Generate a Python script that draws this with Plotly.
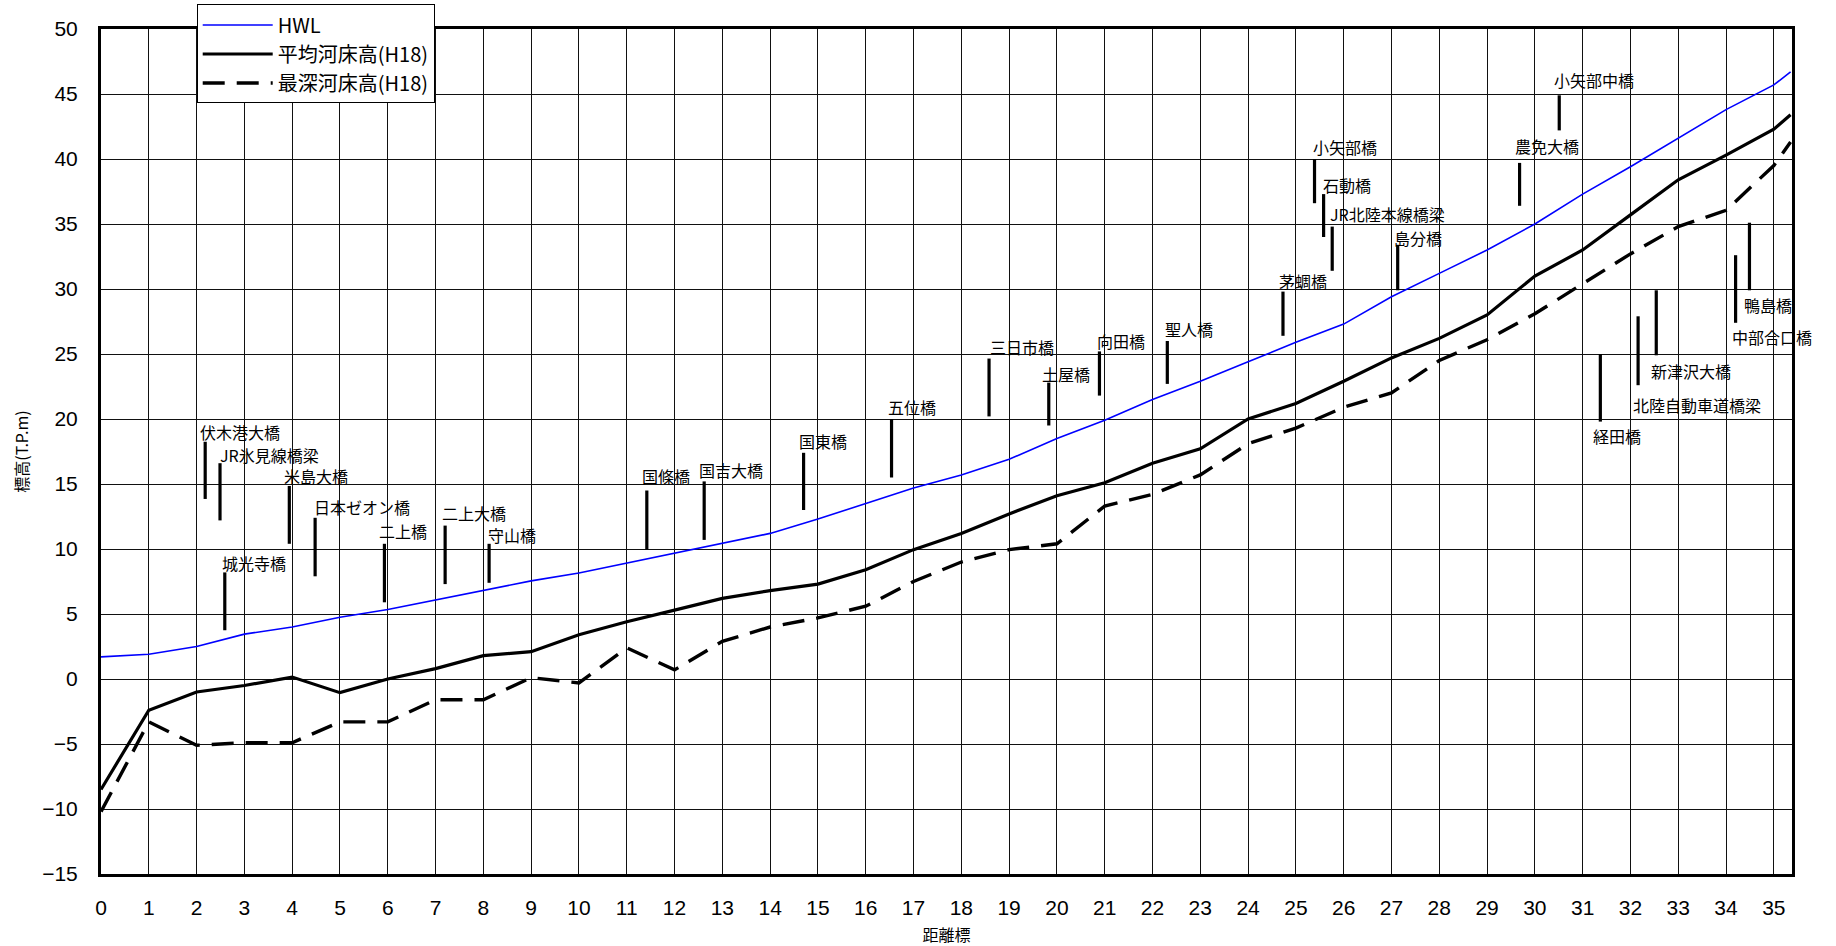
import plotly.graph_objects as go

# ---- data ----
km = [0, 1, 2, 3, 4, 5, 6, 7, 8, 9, 10, 11, 12, 13, 14, 15, 16, 17, 18, 19, 20,
      21, 22, 23, 24, 25, 26, 27, 28, 29, 30, 31, 32, 33, 34, 35, 35.35]
hwl = [1.7, 1.9, 2.5, 3.45, 4.0, 4.75, 5.35, 6.1, 6.85, 7.55, 8.15, 8.9, 9.7, 10.4,
       11.2, 12.3, 13.5, 14.7, 15.7, 16.9, 18.5, 19.9, 21.5, 22.9, 24.4, 25.9, 27.3,
       29.4, 31.2, 33.0, 35.0, 37.3, 39.4, 41.6, 43.8, 45.7, 46.7]
mean_bed = [-8.5, -2.4, -1.0, -0.5, 0.15, -1.05, 0.0, 0.8, 1.8, 2.1, 3.4, 4.4, 5.3,
            6.2, 6.8, 7.3, 8.4, 9.95, 11.2, 12.7, 14.1, 15.1, 16.6, 17.7, 20.0, 21.2,
            22.9, 24.7, 26.2, 28.0, 31.0, 33.0, 35.7, 38.4, 40.3, 42.3, 43.4]
deep_bed = [-10.2, -3.3, -5.1, -4.9, -4.9, -3.3, -3.3, -1.6, -1.6, 0.1, -0.3, 2.4, 0.7,
            2.9, 4.0, 4.7, 5.6, 7.5, 9.0, 9.95, 10.4, 13.3, 14.2, 15.7, 18.1, 19.3,
            20.9, 22.0, 24.5, 26.1, 28.1, 30.4, 32.7, 34.8, 36.05, 39.5, 41.3]

series_names = ["HWL", "平均河床高(H18)", "最深河床高(H18)"]

# bridges: name, distance (km), marker top/bottom (T.P.m), label anchor (km, T.P.m)
bridge_names = ["伏木港大橋", "JR氷見線橋梁", "米島大橋", "日本ゼオン橋", "城光寺橋",
                "二上橋", "二上大橋", "守山橋", "国條橋", "国吉大橋", "国東橋", "五位橋",
                "三日市橋", "土屋橋", "向田橋", "聖人橋", "茅蜩橋", "小矢部橋", "石動橋",
                "JR北陸本線橋梁", "島分橋", "農免大橋", "小矢部中橋", "経田橋",
                "北陸自動車道橋梁", "新津沢大橋", "中部合口橋", "鴨島橋"]
bridge_km = [2.18, 2.49, 3.94, 4.48, 2.59, 5.93, 7.2, 8.12, 11.42, 12.62, 14.7, 16.54,
             18.58, 19.83, 20.89, 22.31, 24.73, 25.39, 25.58, 25.76, 27.13, 29.68,
             30.51, 31.37, 32.16, 32.54, 34.2, 34.49]
bridge_top = [18.25, 16.6, 14.85, 12.4, 8.2, 10.4, 11.8, 10.4, 14.5, 15.2, 17.4, 20.0,
              24.65, 22.8, 25.2, 26.0, 29.8, 40.0, 37.3, 34.8, 33.4, 39.7, 44.9, 25.0,
              27.9, 29.9, 32.6, 35.1]
bridge_bottom = [13.85, 12.2, 10.4, 7.9, 3.75, 5.9, 7.3, 7.4, 9.97, 10.7, 13.0, 15.5,
                 20.2, 19.5, 21.8, 22.7, 26.4, 36.6, 34.0, 31.4, 29.9, 36.4, 42.2, 19.8,
                 22.6, 24.9, 27.4, 29.9]
label_km = [2.06, 2.47, 3.81, 4.44, 2.52, 5.8, 7.11, 8.07, 11.29, 12.49, 14.58, 16.45,
            18.58, 19.67, 20.81, 22.24, 24.62, 25.34, 25.55, 25.69, 27.04, 29.56,
            30.38, 31.2, 32.04, 32.4, 34.11, 34.36]
label_y = [19.0, 17.2, 15.6, 13.2, 8.9, 11.4, 12.75, 11.05, 15.65, 16.1, 18.3, 20.9,
           25.55, 23.5, 26.0, 26.9, 30.6, 40.9, 38.0, 35.8, 33.95, 41.0, 46.1, 18.7,
           21.1, 23.7, 26.3, 28.8]

x_title = "距離標"
y_title = "標高(T.P.m)"

NUM_FONT = "Liberation Sans, Arial, sans-serif"
JP_FONT = "Noto Sans CJK JP, Liberation Sans, sans-serif"

fig = go.Figure()
fig.add_trace(go.Scatter(x=km, y=hwl, mode="lines", name=series_names[0],
                         legendgroup="a",
                         line=dict(color="#0000ff", width=1.6)))
fig.add_trace(go.Scatter(x=km, y=mean_bed, mode="lines", name=series_names[1],
                         legendgroup="b",
                         line=dict(color="#000000", width=3.2)))
fig.add_trace(go.Scatter(x=km, y=deep_bed, mode="lines", name=series_names[2],
                         legendgroup="c",
                         line=dict(color="#000000", width=3.4, dash="22px,12px")))

shapes = []
annotations = []
for name, bx, bt, bb, lx, ly in zip(bridge_names, bridge_km, bridge_top, bridge_bottom,
                                    label_km, label_y):
    shapes.append(dict(type="line", xref="x", yref="y", x0=bx, x1=bx, y0=bb, y1=bt,
                       line=dict(color="#000000", width=3.2), layer="above"))
    annotations.append(dict(x=lx, y=ly, xref="x", yref="y", text=name, showarrow=False,
                            xanchor="left", yanchor="middle", borderpad=0,
                            font=dict(family=JP_FONT, size=16, color="#000000")))

fig.update_layout(
    width=1836, height=946,
    margin=dict(l=101, r=44, t=29, b=72, autoexpand=False),
    paper_bgcolor="#ffffff", plot_bgcolor="#ffffff",
    shapes=shapes, annotations=annotations,
    showlegend=True,
    legend=dict(x=0.0566, y=1.029, xanchor="left", yanchor="top",
                bgcolor="#ffffff", bordercolor="#000000", borderwidth=1,
                font=dict(family=JP_FONT, size=20, color="#000000"),
                itemwidth=70, tracegroupgap=7, traceorder="normal"),
    xaxis=dict(range=[0, 35.38], tick0=0, dtick=1, showgrid=True, automargin=False,
               gridcolor="#111111", gridwidth=1, zeroline=False,
               showline=True, linecolor="#000000", linewidth=3, mirror=True,
               ticks="", ticklabelstandoff=13,
               tickfont=dict(family=NUM_FONT, size=21, color="#000000"),
               title=dict(text=x_title, font=dict(family=JP_FONT, size=16, color="#000000"),
                          standoff=17)),
    yaxis=dict(range=[-15, 50], tick0=0, dtick=5, showgrid=True, automargin=False,
               gridcolor="#111111", gridwidth=1, zeroline=False,
               showline=True, linecolor="#000000", linewidth=3, mirror=True,
               ticks="", ticklabelstandoff=16,
               tickfont=dict(family=NUM_FONT, size=21, color="#000000"),
               title=dict(text=y_title, font=dict(family=JP_FONT, size=16, color="#000000"),
                          standoff=10)),
)

fig.write_html("out.html", config={"displayModeBar": False},
               post_script="document.body.style.margin='0';document.body.style.padding='0';")
